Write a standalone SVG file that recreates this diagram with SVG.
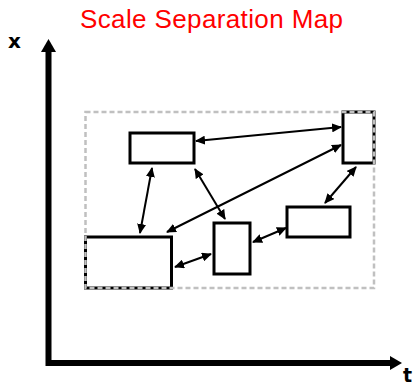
<svg xmlns="http://www.w3.org/2000/svg" width="417" height="388" viewBox="0 0 417 388">
  <defs>
    <marker id="head" viewBox="0 0 10 9" refX="9" refY="4.5" markerWidth="10" markerHeight="9" markerUnits="userSpaceOnUse" orient="auto-start-reverse">
      <path d="M0,0 L10,4.5 L0,9 z" fill="#000"/>
    </marker>
  </defs>
  <style>
    .title { font-family: "Liberation Sans", Arial, sans-serif; font-size: 26px; fill: #ff0000; }
    .axis-label { font-family: "DejaVu Sans", sans-serif; font-weight: bold; font-size: 20px; fill: #000; }
    .axis { fill: none; stroke: #000; stroke-width: 6; stroke-linejoin: miter; }
    .box { fill: #fff; stroke: #000; stroke-width: 3; }
    .region { fill: none; stroke: #c0c0c0; stroke-width: 2.5; stroke-dasharray: 5 3; }
    .link { fill: none; stroke: #000; stroke-width: 2; marker-start: url(#head); marker-end: url(#head); }
  </style>

  <rect width="417" height="388" fill="#fff"/>

  <text class="title" x="80" y="28" textLength="263">Scale Separation Map</text>

  <!-- axes -->
  <g id="axes">
    <path class="axis" d="M48.5,52 V363 H390"/>
    <polygon points="41,52 48.5,39 56,52" fill="#000"/>
    <polygon points="390,356 402,363 390,370" fill="#000"/>
    <text class="axis-label" x="8" y="48">x</text>
    <text class="axis-label" x="403" y="382" style="font-size:19px">t</text>
  </g>

  <!-- connectors -->
  <g id="connectors">
    <line class="link" x1="196" y1="141" x2="341" y2="127"/>
    <line class="link" x1="152" y1="168" x2="140" y2="233"/>
    <line class="link" x1="195" y1="169" x2="225" y2="219"/>
    <line class="link" x1="167" y1="232" x2="341" y2="145"/>
    <line class="link" x1="356" y1="167" x2="325" y2="203"/>
    <line class="link" x1="175" y1="267" x2="211" y2="254"/>
    <line class="link" x1="253" y1="242" x2="286" y2="228"/>
  </g>

  <!-- nodes -->
  <g id="node-a"><rect class="box" x="130" y="133" width="64" height="30"/></g>
  <g id="node-b"><rect class="box" x="343" y="112" width="31" height="51"/></g>
  <g id="node-c"><rect class="box" x="85.5" y="237" width="86" height="51"/></g>
  <g id="node-d"><rect class="box" x="214" y="223" width="36" height="51"/></g>
  <g id="node-e"><rect class="box" x="287" y="207" width="63" height="30"/></g>

  <!-- dashed scale region, drawn over the boxes it touches -->
  <rect class="region" x="85.5" y="112" width="288.5" height="176"/>
</svg>
